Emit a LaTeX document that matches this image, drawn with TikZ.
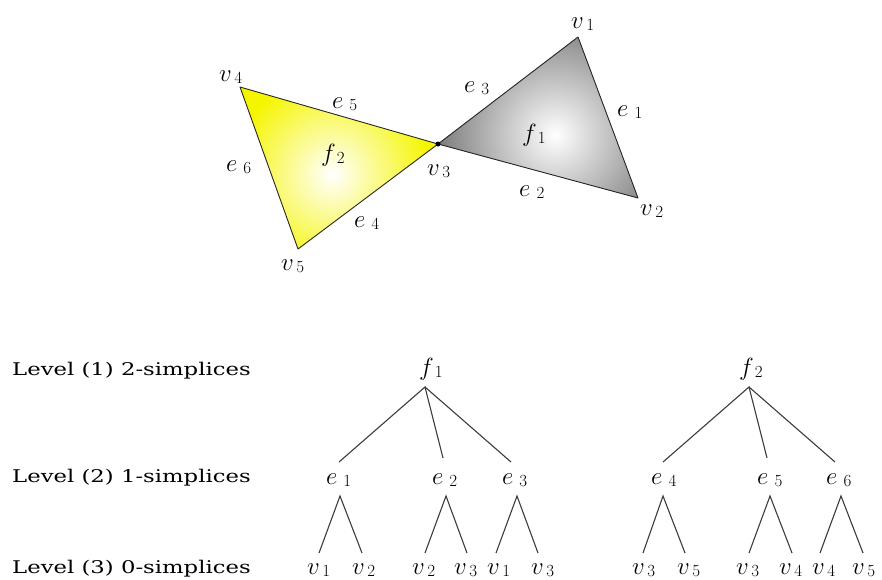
\documentclass[tikz,border=0pt]{standalone}
\usepackage{fontspec}
\usepackage{graphicx}
\newfontfamily\lvlfont{DejaVu Serif}
\definecolor{trigray}{RGB}{98,98,98}
\definecolor{triyel}{RGB}{245,245,0}
\definecolor{linegray}{RGB}{60,60,60}
\newcommand\symlab[3]{{\fontsize{26}{26}\selectfont$#1$}\kern#3{\fontsize{17}{17}\selectfont\raisebox{-2pt}{#2}}}
\newcommand\V[1]{\symlab{v}{#1}{2.5pt}}
\newcommand\E[1]{\symlab{e}{#1}{6pt}}
\newcommand\F[1]{\symlab{f}{#1}{1pt}}
\newcommand\lvltext[1]{\scalebox{1.3}[1]{\lvlfont\fontsize{17.5}{17.5}\selectfont #1}}
\begin{document}
\begin{tikzpicture}[x=1pt,y=-1pt,
  lab/.style={anchor=west,inner sep=0pt},
  lvl/.style={anchor=base west,inner sep=0pt},
  edge/.style={draw=black!85,line width=0.9pt,line join=round},
  branch/.style={draw=linegray,line width=1.1pt}]
\useasboundingbox (0,0) rectangle (882,579);
% vertices of the complex
\coordinate (P1) at (578,37);
\coordinate (P2) at (638,198);
\coordinate (P3) at (438,144);
\coordinate (P4) at (240,87);
\coordinate (P5) at (298,249);
% face f1 (gray)
\fill[trigray] (P1) -- (P2) -- (P3) -- cycle;
\begin{scope}
\clip (P1) -- (P2) -- (P3) -- cycle;
\shade[inner color=white,outer color=trigray] (555,135) circle (140pt);
\end{scope}
% face f2 (yellow)
\fill[triyel] (P4) -- (P3) -- (P5) -- cycle;
\begin{scope}
\clip (P4) -- (P3) -- (P5) -- cycle;
\shade[inner color=white,outer color=triyel] (332,174) circle (100pt);
\end{scope}
\draw[edge] (P1) -- (P2) -- (P3) -- cycle;
\draw[edge] (P4) -- (P3) -- (P5) -- cycle;
\fill[black] (P3) circle (2.5pt);
% labels of the complex
\node[lab] (tv1) at (571,24) {\V{1}};
\node[lab] (tv2) at (640,211) {\V{2}};
\node[lab] (tv3) at (427,171) {\V{3}};
\node[lab] (tv4) at (219,77) {\V{4}};
\node[lab] (tv5) at (281,266) {\V{5}};
\node[lab] (te1) at (617,112) {\E{1}};
\node[lab] (te2) at (519,192) {\E{2}};
\node[lab] (te3) at (464,88) {\E{3}};
\node[lab] (te4) at (354,223) {\E{4}};
\node[lab] (te5) at (332,104) {\E{5}};
\node[lab] (te6) at (226,167) {\E{6}};
\node[lab] (tf1) at (522,135) {\F{1}};
\node[lab] (tf2) at (321,155) {\F{2}};
% level captions
\node[lvl] (L1) at (12,375) {\lvltext{Level (1) 2-simplices}};
\node[lvl] (L2) at (12,482) {\lvltext{Level (2) 1-simplices}};
\node[lvl] (L3) at (12,573) {\lvltext{Level (3) 0-simplices}};
% tree labels
\node[lab] (rf1) at (419,369) {\F{1}};
\node[lab] (rf2) at (739,369) {\F{2}};
\node[lab] (re1) at (326,480) {\E{1}};
\node[lab] (re2) at (432,480) {\E{2}};
\node[lab] (re3) at (502,480) {\E{3}};
\node[lab] (re4) at (651,480) {\E{4}};
\node[lab] (re5) at (757,480) {\E{5}};
\node[lab] (re6) at (826,480) {\E{6}};
\node[lab] (l1) at (307,570) {\V{1}};
\node[lab] (l2) at (352,570) {\V{2}};
\node[lab] (l3) at (412,570) {\V{2}};
\node[lab] (l4) at (454,570) {\V{3}};
\node[lab] (l5) at (487,570) {\V{1}};
\node[lab] (l6) at (531,570) {\V{3}};
\node[lab] (l7) at (632,570) {\V{3}};
\node[lab] (l8) at (677,570) {\V{5}};
\node[lab] (l9) at (736,570) {\V{3}};
\node[lab] (l10) at (779,570) {\V{4}};
\node[lab] (l11) at (812,570) {\V{4}};
\node[lab] (l12) at (852,570) {\V{5}};
% branch points
\coordinate (f1d) at (425,387);
\coordinate (f2d) at (749,387);
\coordinate (e1u) at (339,462);
\coordinate (e2u) at (443,458);
\coordinate (e3u) at (511,462);
\coordinate (e4u) at (663,462);
\coordinate (e5u) at (767,458);
\coordinate (e6u) at (835,462);
\coordinate (e1d) at (340,496);
\coordinate (e2d) at (446,496);
\coordinate (e3d) at (517,496);
\coordinate (e4d) at (663,496);
\coordinate (e5d) at (770,496);
\coordinate (e6d) at (841,496);
\coordinate (l1u) at (319,553);
\coordinate (l2u) at (362,553);
\coordinate (l3u) at (425,553);
\coordinate (l4u) at (467,553);
\coordinate (l5u) at (496,553);
\coordinate (l6u) at (538,553);
\coordinate (l7u) at (643,553);
\coordinate (l8u) at (685,553);
\coordinate (l9u) at (749,553);
\coordinate (l10u) at (792,553);
\coordinate (l11u) at (820,553);
\coordinate (l12u) at (863,553);
\draw[branch] (e1u) -- (f1d) -- (e2u);
\draw[branch] (f1d) -- (e3u);
\draw[branch] (e4u) -- (f2d) -- (e5u);
\draw[branch] (f2d) -- (e6u);
\draw[branch] (l1u) -- (e1d) -- (l2u);
\draw[branch] (l3u) -- (e2d) -- (l4u);
\draw[branch] (l5u) -- (e3d) -- (l6u);
\draw[branch] (l7u) -- (e4d) -- (l8u);
\draw[branch] (l9u) -- (e5d) -- (l10u);
\draw[branch] (l11u) -- (e6d) -- (l12u);
\end{tikzpicture}
\end{document}
